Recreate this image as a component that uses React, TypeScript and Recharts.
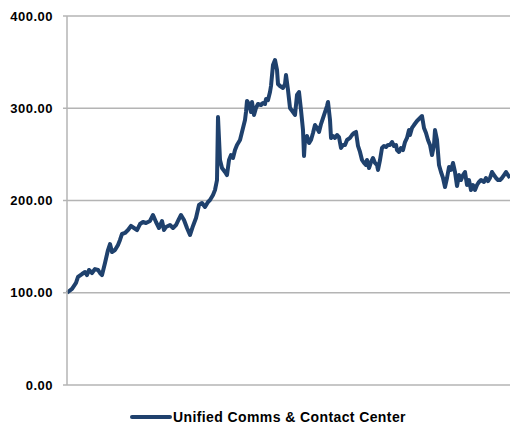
import { LineChart, Line, XAxis, YAxis, CartesianGrid } from 'recharts';

// week index (from start of period) and rebased index value (start = 100)
const weeks = [
  0, 5, 9, 11, 15, 18, 20, 22, 25, 28,
  31, 33, 35, 38, 41, 43, 45, 48, 51, 53,
  55, 58, 61, 64, 67, 70, 73, 76, 79, 83,
  86, 89, 92, 95, 97, 99, 103, 106, 109, 111,
  114, 117, 120, 123, 126, 129, 132, 135, 138, 141,
  143, 146, 148, 150, 151, 153, 155, 158, 160, 162,
  164, 166, 168, 170, 173, 174, 176, 178, 179, 180,
  182, 184, 185, 187, 189, 191, 194, 196, 198, 199,
  201, 203, 204, 206, 208, 210, 211, 213, 216, 218,
  219, 221, 223, 226, 228, 230, 232, 234, 236, 237,
  238, 240, 242, 244, 246, 248, 250, 252, 254, 256,
  258, 260, 261, 263, 264, 266, 268, 270, 272, 274,
  276, 278, 280, 283, 285, 287, 289, 291, 293, 295,
  297, 299, 300, 302, 304, 306, 308, 310, 311, 313,
  315, 317, 319, 321, 323, 325, 327, 329, 330, 332,
  334, 336, 338, 340, 342, 343, 345, 347, 350, 353,
  355, 357, 359, 361, 363, 365, 367, 368, 370, 372,
  374, 376, 378, 380, 382, 384, 386, 388, 390, 392,
  394, 396, 398, 400, 402, 404, 406, 408, 410, 412,
  414, 417, 419, 421, 423, 425, 427, 429, 431, 433,
  435, 437, 439, 441, 443,
];

const indexValues = [
  100, 104.1, 110.6, 117.1, 120.3, 122.5, 119.2, 124.7, 121.4, 125.7,
  124.7, 121.4, 119.2, 132.2, 146.3, 152.8, 144.2, 146.3, 151.8, 157.2,
  163.7, 164.8, 168, 172.4, 170.2, 168, 174.5, 176.7, 175.6, 177.8,
  184.3, 176.7, 170.2, 177.8, 168, 171.3, 173.4, 170.2, 173.4, 177.8,
  184.3, 178.9, 170.2, 162.6, 172.4, 181, 195.1, 197.3, 193, 198.4,
  200.5, 206, 211.4, 222.2, 290.5, 243.9, 235.2, 230.9, 227.6, 243.9,
  249.3, 246.1, 254.7, 260.2, 265.6, 269.9, 278.6, 287.3, 295.9, 307.9,
  304.6, 295.9, 306.8, 292.7, 300.3, 304.6, 303.5, 305.7, 304.6, 310,
  308.9, 317.6, 324.1, 346.9, 352.3, 341.5, 326.3, 324.1, 322, 326.3,
  336, 319.8, 300.3, 295.9, 292.7, 314.4, 317.6, 298.1, 276.4, 248.2,
  265.6, 269.9, 262.3, 265.6, 273.2, 281.8, 278.6, 274.3, 282.9, 289.4,
  295.9, 302.4, 306.8, 287.3, 267.8, 269.9, 267.8, 271, 268.8, 256.9,
  260.2, 260.2, 265.6, 267.8, 271, 273.2, 274.3, 259.1, 252.6, 243.9,
  240.7, 238.5, 243.9, 235.2, 241.7, 246.1, 240.7, 238.5, 233.1, 243.9,
  256.9, 259.1, 258, 260.2, 260.2, 263.4, 259.1, 260.2, 254.7, 252.6,
  256.9, 254.7, 263.4, 267.8, 276.4, 271, 278.6, 281.8, 286.2, 289.4,
  291.6, 278.6, 273.2, 265.6, 260.2, 249.3, 260.2, 276.4, 265.6, 238.5,
  230.9, 224.4, 214.6, 224.4, 236.3, 233.1, 240.7, 230.9, 215.7, 227.6,
  222.2, 227.6, 230.9, 216.8, 222.2, 211.4, 216.8, 211.4, 216.8, 220.1,
  222.2, 220.1, 224.4, 221.1, 224.4, 230.9, 227.6, 224.4, 222.2, 222.2,
  224.4, 227.6, 230.9, 227.6, 224.4,
];

const yTicks = [0, 100, 200, 300, 400];
const seriesName = 'Unified Comms & Contact Center';

const LINE_COLOR = '#1f416d';
const GRID_COLOR = '#b4b4b4';

const data = weeks.map((w, i) => ({ week: w, value: indexValues[i] }));

export default function App() {
  return (
    <div style={{ position: 'absolute', left: 0, top: 0, width: 510, height: 431, fontFamily: '"Liberation Sans", Arial, sans-serif' }}>
      <LineChart width={510} height={431} data={data} margin={{ top: 16, right: 0, bottom: 46, left: 0 }}>
        <CartesianGrid vertical={false} stroke={GRID_COLOR} strokeWidth={1.5} />
        <XAxis dataKey="week" type="number" domain={[0, 443]} hide />
        <YAxis
          width={67}
          domain={[0, 400]}
          ticks={yTicks}
          tickFormatter={(v: number) => v.toFixed(2)}
          tick={{ fill: '#000', fontSize: 13, fontWeight: 'bold', letterSpacing: 0.5 }}
          tickSize={4}
          tickMargin={10}
          axisLine={{ stroke: GRID_COLOR, strokeWidth: 1.5 }}
          tickLine={{ stroke: GRID_COLOR, strokeWidth: 1.5 }}
        />
        <Line
          type="linear"
          dataKey="value"
          name={seriesName}
          stroke={LINE_COLOR}
          strokeWidth={4}
          strokeLinejoin="round"
          dot={false}
          isAnimationActive={false}
        />
      </LineChart>
      <div style={{ position: 'absolute', left: 130, top: 409, display: 'flex', alignItems: 'center' }}>
        <svg width={42} height={8}>
          <line x1={2} y1={4} x2={40} y2={4} stroke={LINE_COLOR} strokeWidth={4} strokeLinecap="round" />
        </svg>
        <span style={{ fontSize: 14, fontWeight: 'bold', letterSpacing: 0.4, color: '#000', marginLeft: 1 }}>{seriesName}</span>
      </div>
    </div>
  );
}
